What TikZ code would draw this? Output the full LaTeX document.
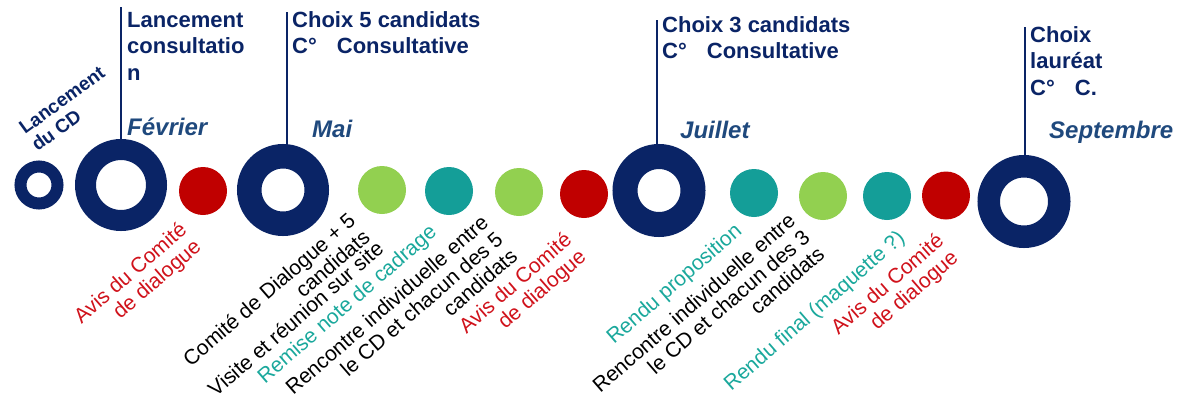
\documentclass[tikz,border=0pt]{standalone}
\usepackage{fontspec}
\setmainfont{Liberation Sans}
\definecolor{navy}{HTML}{0A2466}
\definecolor{monthblue}{HTML}{1F497D}
\definecolor{cred}{HTML}{C00000}
\definecolor{cgreen}{HTML}{92D050}
\definecolor{cteal}{HTML}{149E98}
\definecolor{tred}{HTML}{D0121B}
\definecolor{tteal}{HTML}{1AA89C}
\newcommand\Rstack[1]{\vtop{\lineskiplimit=-100pt\halign{\hfil##\cr#1\crcr}}}
\newcommand\Lstack[1]{\vtop{\lineskiplimit=-100pt\halign{##\hfil\cr#1\crcr}}}
\begin{document}
\begin{tikzpicture}[x=1pt,y=-1pt,
  ring/.style={circle, draw=navy, fill=none, inner sep=0pt},
  dot/.style={circle, minimum size=48pt, inner sep=0pt},
  head/.style={font=\fontsize{22}{26.5}\selectfont\bfseries, text=navy, anchor=base west, inner sep=0pt},
  month/.style={font=\fontsize{24}{28}\selectfont\bfseries\itshape, text=monthblue, anchor=base west, inner sep=0pt},
  lab/.style={font=\fontsize{21}{22}\selectfont, rotate=41, anchor=base east, inner sep=0pt},
  stem/.style={draw=navy, line width=1.6pt}
]
\useasboundingbox (0,0) rectangle (1194,407);
% rings
\node[ring, line width=12pt, minimum size=37pt] (r0) at (39,185) {};
\node[ring, line width=21pt, minimum size=71pt] (r1) at (121,185) {};
\node[ring, line width=24.5pt, minimum size=67.5pt] (r2) at (283,190) {};
\node[ring, line width=25pt, minimum size=68pt] (r3) at (659,190.5) {};
\node[ring, line width=22.5pt, minimum size=70.5pt] (r4) at (1024,201.5) {};
% dots
\node[dot, fill=cred] (d1) at (203,191) {};
\node[dot, fill=cgreen] (d2) at (382,190) {};
\node[dot, fill=cteal] (d3) at (449,191) {};
\node[dot, fill=cgreen] (d4) at (519,192) {};
\node[dot, fill=cred] (d5) at (584,194) {};
\node[dot, fill=cteal] (d6) at (754,193) {};
\node[dot, fill=cgreen] (d7) at (823,196) {};
\node[dot, fill=cteal] (d8) at (887,196) {};
\node[dot, fill=cred] (d9) at (946,195.5) {};
% stems
\coordinate (s1) at (121,7);
\coordinate (s2) at (287,12);
\coordinate (s3) at (657,20);
\coordinate (s4) at (1025,27);
\draw[stem] (s1) -- (r1.north);
\draw[stem] (s2) -- (s2 |- r2.north);
\draw[stem] (s3) -- (s3 |- r3.north);
\draw[stem] (s4) -- (s4 |- r4.north);
% headers
\node[head] (h1) at (127,27) {\Lstack{Lancement\cr consultatio\cr n}};
\node[head] (h2) at (292,27) {\Lstack{Choix 5 candidats\cr C°\hspace{20pt}Consultative}};
\node[head] (h3) at (662,32) {\Lstack{Choix 3 candidats\cr C°\hspace{20pt}Consultative}};
\node[head] (h4) at (1030,42) {\Lstack{Choix\cr lauréat\cr C°\hspace{20pt}C.}};
% months
\node[month] (m1) at (127,135) {Février};
\node[month] (m2) at (312,137) {Mai};
\node[month] (m3) at (680,138) {Juillet};
\node[month] (m4) at (1049,138) {Septembre};
% start label
\node[font=\fontsize{19}{21}\selectfont\bfseries, text=navy, rotate=36, anchor=base west, inner sep=0pt] (lcd) at (25,135) {\Lstack{Lancement\cr du CD}};
% rotated labels
\node[lab, text=tred] (l1) at (188,232) {\Rstack{Avis du Comité\cr de dialogue}};
\node[lab] (l2) at (357,223) {\Rstack{Comité de Dialogue + 5\cr candidats}};
\node[lab] (l3) at (385,251) {Visite et réunion sur site};
\node[lab, text=tteal] (l4) at (438,234) {Remise note de cadrage};
\node[lab] (l5) at (490,225) {\Rstack{Rencontre individuelle entre\cr le CD et chacun des 5\cr candidats}};
\node[lab, text=tred] (l6) at (573,242) {\Rstack{Avis du Comité\cr de dialogue}};
\node[lab, text=tteal] (l7) at (743,233) {Rendu proposition};
\node[lab] (l8) at (797,223) {\Rstack{Rencontre individuelle entre\cr le CD et chacun des 3\cr candidats}};
\node[lab, text=tteal] (l9) at (906,240) {Rendu final (maquette ?)};
\node[lab, text=tred] (l10) at (945,243) {\Rstack{Avis du Comité\cr de dialogue}};
\end{tikzpicture}
\end{document}
